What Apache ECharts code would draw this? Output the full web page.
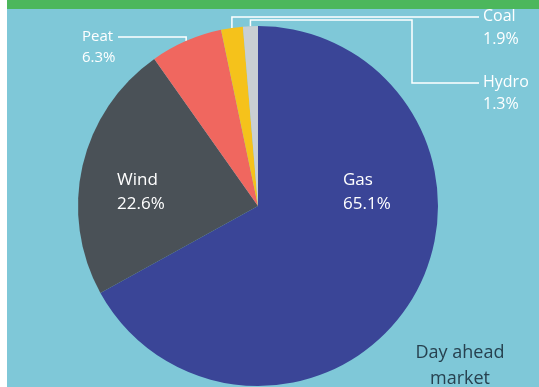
<!DOCTYPE html>
<html>
<head>
<meta charset="utf-8">
<script src="https://cdn.jsdelivr.net/npm/echarts@6/dist/echarts.min.js"></script>
<style>
html,body{margin:0;padding:0;background:#ffffff;}
#main{width:539px;height:387px;}
</style>
</head>
<body>
<div id="main"></div>
<script>
// Data
var categories = ['Gas', 'Wind', 'Peat', 'Coal', 'Hydro'];
var shares = [65.1, 22.6, 6.3, 1.9, 1.3];

// Styling (not data)
var sliceColors = ['#3a4597', '#4a5157', '#f0675f', '#f5c21b', '#c9cfd3'];
var labelAnchors = {
  Gas:   {x: 343, y: 192, size: 17, lh: 24},
  Wind:  {x: 117, y: 192, size: 17, lh: 24},
  Peat:  {x: 82,  y: 47,  size: 15, lh: 21},
  Coal:  {x: 483, y: 28,  size: 16, lh: 23},
  Hydro: {x: 483, y: 93,  size: 16, lh: 22}
};
var insideNames = {Gas: true, Wind: true};

var chart = echarts.init(document.getElementById('main'), null, {renderer: 'canvas'});

var seriesData = categories.map(function (c, i) {
  var inside = !!insideNames[c];
  var a = labelAnchors[c];
  return {
    name: c,
    value: shares[i],
    itemStyle: {color: sliceColors[i]},
    label: {position: inside ? 'inside' : 'outside', fontSize: a.size, lineHeight: a.lh},
    labelLine: {show: !inside}
  };
});

var option = {
  animation: false,
  backgroundColor: '#ffffff',
  graphic: [
    {type: 'rect', shape: {x: 7, y: 0, width: 540, height: 400, r: [0, 0, 0, 8]}, style: {fill: '#7fc8d8'}, z: -10},
    {type: 'rect', shape: {x: 7, y: 0, width: 540, height: 9}, style: {fill: '#4cb75c'}, z: -9}
  ],
  title: {
    text: 'Day ahead\nmarket',
    left: 455, top: 335,
    textAlign: 'center',
    textStyle: {color: '#27414f', fontFamily: 'Open Sans', fontSize: 18, fontWeight: 'normal', lineHeight: 26}
  },
  series: [{
    type: 'pie',
    center: [258, 206],
    radius: 180,
    startAngle: 90,
    clockwise: true,
    avoidLabelOverlap: false,
    silent: true,
    data: seriesData,
    label: {
      show: true,
      color: '#ffffff',
      fontFamily: 'Open Sans',
      fontSize: 16,
      lineHeight: 23,
      formatter: function (p) { return p.name + '\n' + p.value.toFixed(1) + '%'; }
    },
    labelLine: {show: true, lineStyle: {color: '#ffffff', width: 1.5}},
    labelLayout: function (params) {
      var name = categories[params.dataIndex];
      var a = labelAnchors[name];
      var out = {x: a.x, y: a.y, align: 'left', verticalAlign: 'middle'};
      var pts = params.labelLinePoints;
      if (pts && !insideNames[name]) {
        var p0 = pts[0];
        if (name === 'Peat') {
          out.labelLinePoints = [[p0[0], p0[1]], [p0[0], 37], [118, 37]];
        } else if (name === 'Coal') {
          out.labelLinePoints = [[p0[0], p0[1]], [p0[0], 17], [479, 17]];
        } else if (name === 'Hydro') {
          out.labelLinePoints = [[p0[0], p0[1]], [p0[0], 20], [412, 20], [412, 83], [479, 83]];
        }
      }
      return out;
    }
  }]
};
chart.setOption(option);
</script>
</body>
</html>
